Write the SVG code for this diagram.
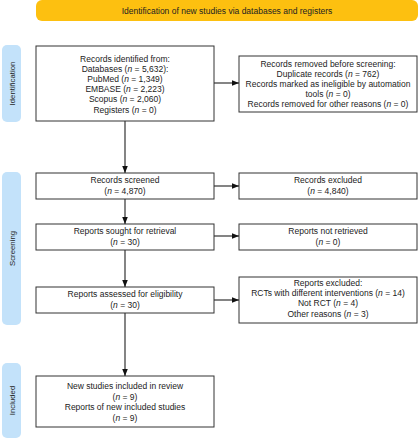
<svg xmlns="http://www.w3.org/2000/svg" width="418" height="440" viewBox="0 0 418 440">
<style>
text{font-family:"Liberation Sans",Arial,sans-serif;font-size:8.5px;fill:#222;text-anchor:middle}
.box{fill:#fff;stroke:#333;stroke-width:1}
.side{fill:#c3e2fa}
.side text{font-size:7.8px}
.conn{stroke:#333;stroke-width:1.2;fill:none}
</style>
<defs>
<marker id="ah" viewBox="0 0 10 10" refX="10" refY="5" markerWidth="7" markerHeight="7" orient="auto" markerUnits="userSpaceOnUse">
<path d="M0,1 L10,5 L0,9 z" fill="#111"/>
</marker>
</defs>
<g id="banner"><rect x="36" y="0" width="382" height="21" rx="6" fill="#fdc010"/><text x="227" y="14">Identification of new studies via databases and registers</text></g>
<g id="lab-identification" class="side"><rect x="2" y="45" width="19" height="77" rx="5"/><text transform="translate(14.5,83.5) rotate(-90)">Identification</text></g>
<g id="lab-screening" class="side"><rect x="2" y="172" width="19" height="153" rx="5"/><text transform="translate(14.5,248.5) rotate(-90)">Screening</text></g>
<g id="lab-included" class="side"><rect x="2" y="363" width="19" height="75" rx="5"/><text transform="translate(14.5,400.5) rotate(-90)">Included</text></g>
<g id="identified"><rect class="box" x="36" y="46" width="178" height="75"/>
<text x="125" y="62">Records identified from:</text>
<text x="125" y="72">Databases (<tspan font-style="italic">n</tspan> = 5,632):</text>
<text x="125" y="82">PubMed (<tspan font-style="italic">n</tspan> = 1,349)</text>
<text x="125" y="92">EMBASE (<tspan font-style="italic">n</tspan> = 2,223)</text>
<text x="125" y="102">Scopus (<tspan font-style="italic">n</tspan> = 2,060)</text>
<text x="125" y="112.5">Registers (<tspan font-style="italic">n</tspan> = 0)</text></g>
<g id="removed"><rect class="box" x="239" y="56" width="178" height="56"/>
<text x="328" y="67">Records removed before screening:</text>
<text x="328" y="77">Duplicate records (<tspan font-style="italic">n</tspan> = 762)</text>
<text x="328" y="87">Records marked as ineligible by automation</text>
<text x="328" y="97">tools (<tspan font-style="italic">n</tspan> = 0)</text>
<text x="328" y="107">Records removed for other reasons (<tspan font-style="italic">n</tspan> = 0)</text></g>
<g id="screened"><rect class="box" x="36" y="173" width="178" height="26"/>
<text x="125" y="183">Records screened</text>
<text x="125" y="194">(<tspan font-style="italic">n</tspan> = 4,870)</text></g>
<g id="excluded"><rect class="box" x="239" y="173" width="178" height="26"/>
<text x="328" y="183">Records excluded</text>
<text x="328" y="194">(<tspan font-style="italic">n</tspan> = 4,840)</text></g>
<g id="sought"><rect class="box" x="36" y="224" width="178" height="26"/>
<text x="125" y="234">Reports sought for retrieval</text>
<text x="125" y="245">(<tspan font-style="italic">n</tspan> = 30)</text></g>
<g id="notretrieved"><rect class="box" x="239" y="224" width="178" height="26"/>
<text x="328" y="234">Reports not retrieved</text>
<text x="328" y="245">(<tspan font-style="italic">n</tspan> = 0)</text></g>
<g id="assessed"><rect class="box" x="36" y="287" width="178" height="26"/>
<text x="125" y="297">Reports assessed for eligibility</text>
<text x="125" y="308">(<tspan font-style="italic">n</tspan> = 30)</text></g>
<g id="reportsexcluded"><rect class="box" x="239" y="277" width="178" height="46"/>
<text x="328" y="286">Reports excluded:</text>
<text x="328" y="296">RCTs with different interventions (<tspan font-style="italic">n</tspan> = 14)</text>
<text x="328" y="306">Not RCT (<tspan font-style="italic">n</tspan> = 4)</text>
<text x="328" y="316.5">Other reasons (<tspan font-style="italic">n</tspan> = 3)</text></g>
<g id="included"><rect class="box" x="36" y="376" width="178" height="51"/>
<text x="125" y="389">New studies included in review</text>
<text x="125" y="399.5">(<tspan font-style="italic">n</tspan> = 9)</text>
<text x="125" y="410">Reports of new included studies</text>
<text x="125" y="420.5">(<tspan font-style="italic">n</tspan> = 9)</text></g>
<g id="connectors" class="conn">
<line x1="125" y1="121" x2="125" y2="173" marker-end="url(#ah)"/>
<line x1="125" y1="199" x2="125" y2="224" marker-end="url(#ah)"/>
<line x1="125" y1="250" x2="125" y2="287" marker-end="url(#ah)"/>
<line x1="125" y1="313" x2="125" y2="376" marker-end="url(#ah)"/>
<line x1="214" y1="83" x2="239" y2="83" marker-end="url(#ah)"/>
<line x1="214" y1="186" x2="239" y2="186" marker-end="url(#ah)"/>
<line x1="214" y1="236" x2="239" y2="236" marker-end="url(#ah)"/>
<line x1="214" y1="300" x2="239" y2="300" marker-end="url(#ah)"/>
</g>
</svg>
